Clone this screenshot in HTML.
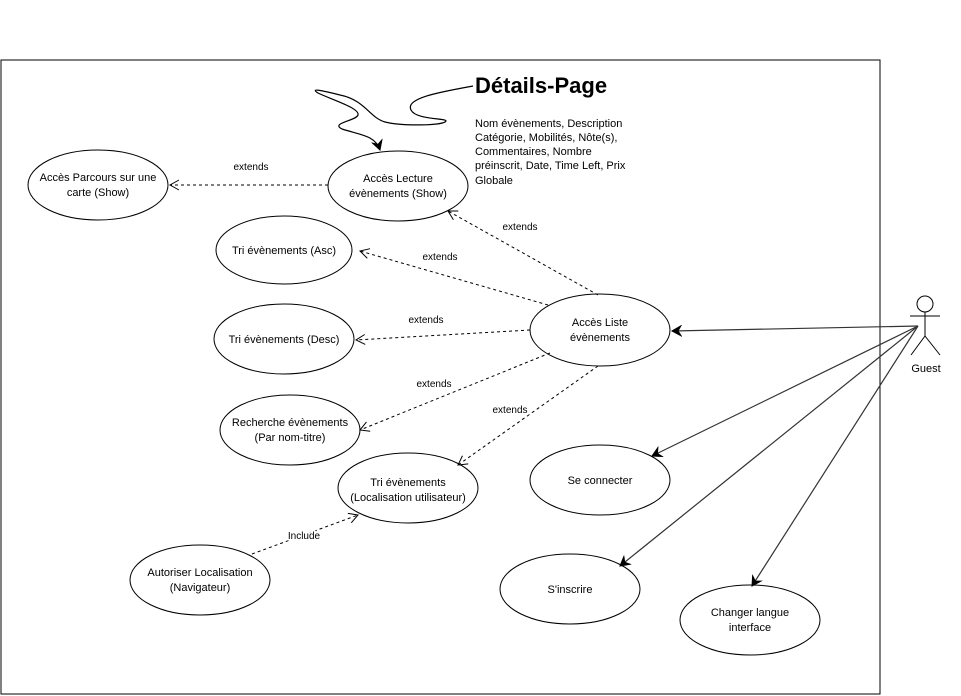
<!DOCTYPE html>
<html><head><meta charset="utf-8"><style>
body{margin:0;background:#fff;}
svg{display:block;font-family:"Liberation Sans",Arial,sans-serif;}
</style></head><body>
<svg width="961" height="696" viewBox="0 0 961 696" xmlns="http://www.w3.org/2000/svg">
<defs>
<marker id="oa" markerWidth="12" markerHeight="12" refX="10" refY="6" orient="auto" markerUnits="userSpaceOnUse"><path d="M1,1 L10,6 L1,11" fill="none" stroke="#000" stroke-width="1"/></marker>
<marker id="fa" markerWidth="12" markerHeight="12" refX="10" refY="6" orient="auto" markerUnits="userSpaceOnUse"><path d="M1,1 L10,6 L1,11 L4,6 Z" fill="#000" stroke="#000"/></marker>
</defs>
<rect x="1" y="60" width="879" height="634" fill="#fff" stroke="#000" stroke-width="1"/>
<g fill="#fff" stroke="#000" stroke-width="1">
<ellipse cx="98" cy="185" rx="70" ry="35"/>
<ellipse cx="398" cy="186" rx="70" ry="35"/>
<ellipse cx="284" cy="250" rx="68" ry="34"/>
<ellipse cx="284" cy="339" rx="70" ry="35"/>
<ellipse cx="290" cy="430" rx="70" ry="35"/>
<ellipse cx="408" cy="488" rx="70" ry="35"/>
<ellipse cx="200" cy="580" rx="70" ry="35"/>
<ellipse cx="600" cy="330" rx="70" ry="36"/>
<ellipse cx="600" cy="480" rx="70" ry="35"/>
<ellipse cx="570" cy="589" rx="70" ry="35"/>
<ellipse cx="750" cy="620" rx="70" ry="35"/>
</g>
<g fill="none" stroke="#000" stroke-width="1" stroke-dasharray="3,3">
<line x1="328" y1="185" x2="170" y2="185" marker-end="url(#oa)"/>
<line x1="598" y1="295" x2="448" y2="211" marker-end="url(#oa)"/>
<line x1="548" y1="305" x2="360" y2="251" marker-end="url(#oa)"/>
<line x1="530" y1="330" x2="356" y2="340" marker-end="url(#oa)"/>
<line x1="550" y1="353" x2="360" y2="430" marker-end="url(#oa)"/>
<line x1="598" y1="366" x2="458" y2="465" marker-end="url(#oa)"/>
<line x1="252" y1="554" x2="358" y2="515" marker-end="url(#oa)"/>
</g>
<g fill="none" stroke="#333" stroke-width="1.2">
<line x1="918" y1="326" x2="672" y2="331" marker-end="url(#fa)"/>
<line x1="918" y1="326" x2="652" y2="456" marker-end="url(#fa)"/>
<line x1="918" y1="326" x2="620" y2="566" marker-end="url(#fa)"/>
<line x1="918" y1="326" x2="752" y2="586" marker-end="url(#fa)"/>
</g>
<path d="M473,86 C440,92 405,98 411,110 C416,120 446,118 446,121 C444,126 400,126 385,122 C370,118 365,100 340,95 C320,90 310,88 318,93 C330,99 360,108 358,115 C356,121 330,123 342,129 C360,135 375,135 380,150" fill="none" stroke="#000" stroke-width="1.2" marker-end="url(#fa)"/>
<g fill="none" stroke="#000" stroke-width="1">
<circle cx="925" cy="304" r="8"/>
<line x1="925" y1="312" x2="925" y2="336"/>
<line x1="910" y1="316" x2="940" y2="316"/>
<line x1="925" y1="336" x2="911" y2="355"/>
<line x1="925" y1="336" x2="940" y2="355"/>
</g>
<g font-size="11" fill="#000" text-anchor="middle">
<text x="98" y="181">Accès Parcours sur une</text><text x="98" y="196">carte (Show)</text>
<text x="398" y="182">Accès Lecture</text><text x="398" y="197">évènements (Show)</text>
<text x="284" y="254">Tri évènements (Asc)</text>
<text x="284" y="343">Tri évènements (Desc)</text>
<text x="290" y="426">Recherche évènements</text><text x="290" y="441">(Par nom-titre)</text>
<text x="408" y="486">Tri évènements</text><text x="408" y="501">(Localisation utilisateur)</text>
<text x="200" y="576">Autoriser Localisation</text><text x="200" y="591">(Navigateur)</text>
<text x="600" y="326">Accès Liste</text><text x="600" y="341">évènements</text>
<text x="600" y="484">Se connecter</text>
<text x="570" y="593">S'inscrire</text>
<text x="750" y="616">Changer langue</text><text x="750" y="631">interface</text>
<text x="926" y="372">Guest</text>
</g>
<g font-size="10" fill="#000" text-anchor="middle">
<text x="251" y="170">extends</text>
<text x="520" y="230">extends</text>
<text x="440" y="260">extends</text>
<text x="426" y="323">extends</text>
<text x="434" y="387">extends</text>
<text x="510" y="413">extends</text>
<text x="304" y="539" stroke="#fff" stroke-width="3" paint-order="stroke">Include</text>
</g>
<text x="475" y="93" font-size="22" font-weight="bold">Détails-Page</text>
<g font-size="11" fill="#000">
<text x="475" y="127">Nom évènements, Description</text>
<text x="475" y="141">Catégorie, Mobilités, Nôte(s),</text>
<text x="475" y="155">Commentaires, Nombre</text>
<text x="475" y="169">préinscrit, Date, Time Left, Prix</text>
<text x="475" y="184">Globale</text>
</g>
</svg>
</body></html>
